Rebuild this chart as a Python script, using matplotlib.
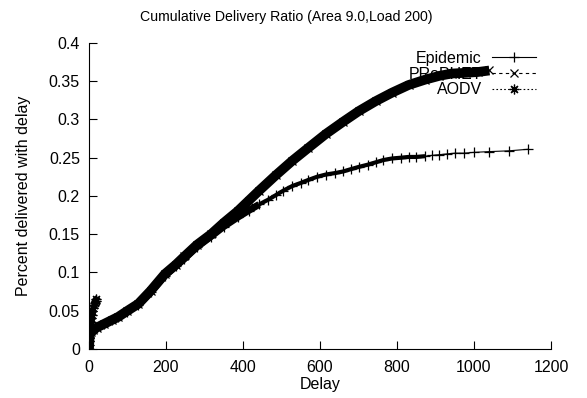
import numpy as np
import matplotlib
matplotlib.use('Agg')
import matplotlib.pyplot as plt

plt.rcParams['font.family'] = ['Liberation Sans', 'DejaVu Sans']

# values
epi_delay = [0, 1, 2, 5, 10, 20, 40, 60, 76, 100, 128, 160, 197, 225, 248, 280, 317, 350, 386, 415,
             442, 465, 485, 505, 528, 550, 570, 592, 615, 640, 660, 680, 701, 725, 745, 765, 787, 810,
             830, 850, 873, 890, 910, 930, 951, 975, 1000, 1040, 1090, 1140]
epi_ratio = [0, 0.01, 0.02, 0.022, 0.025, 0.028, 0.033, 0.038, 0.042, 0.049, 0.058, 0.074, 0.096, 0.108,
             0.118, 0.133, 0.147, 0.160, 0.172, 0.181, 0.189, 0.195, 0.201, 0.207, 0.213, 0.217, 0.221,
             0.225, 0.228, 0.230, 0.232, 0.235, 0.238, 0.241, 0.244, 0.247, 0.249, 0.250, 0.251, 0.251,
             0.252, 0.253, 0.254, 0.255, 0.256, 0.256, 0.257, 0.258, 0.259, 0.261]

prophet_delay = [0, 1, 2, 5, 10, 20, 40, 60, 76, 100, 128, 160, 197, 225, 248, 280, 317, 350, 386, 415,
                 442, 485, 528, 570, 615, 660, 701, 745, 787, 830, 873, 910, 942, 980, 1010, 1040]
prophet_ratio = [0, 0.01, 0.02, 0.022, 0.025, 0.028, 0.033, 0.038, 0.042, 0.050, 0.059, 0.076, 0.098, 0.110,
                 0.121, 0.136, 0.150, 0.165, 0.180, 0.194, 0.207, 0.227, 0.246, 0.263, 0.281, 0.297, 0.311,
                 0.324, 0.335, 0.345, 0.352, 0.357, 0.360, 0.361, 0.362, 0.364]

aodv_delay = [0, 0, 1, 1, 2, 2, 3, 4, 5, 7, 9, 11, 13, 15, 17, 19]
aodv_ratio = [0, 0.005, 0.01, 0.015, 0.02, 0.025, 0.03, 0.035, 0.04, 0.045, 0.05, 0.054, 0.057, 0.06, 0.063, 0.065]

fig = plt.figure(figsize=(5.87, 3.98), dpi=100)
ax = fig.add_axes([0.1516, 0.1231, 0.787, 0.769])

# thick underlay for the dense marker bands
ax.plot(prophet_delay, prophet_ratio, color='black', lw=7, zorder=2, solid_capstyle='butt')
ax.plot(epi_delay[:21], epi_ratio[:21], color='black', lw=5, zorder=2, solid_capstyle='butt')
ax.plot(epi_delay[20:41], epi_ratio[20:41], color='black', lw=3, zorder=2, solid_capstyle='butt')
ax.plot(aodv_delay, aodv_ratio, color='black', lw=4, zorder=2)

ax.plot(epi_delay, epi_ratio, color='black', lw=0.8, marker='+', ms=7, mew=0.9,
        label='Epidemic', zorder=3)
ax.plot(prophet_delay, prophet_ratio, color='black', lw=0.8, ls=(0, (3, 3)), marker='x', ms=6, mew=0.9,
        label='PRoPHET', zorder=3)
ax.plot(aodv_delay, aodv_ratio, color='black', lw=0.8, ls=(0, (1.5, 2)), marker=(8, 2, 0), ms=7, mew=0.9,
        label='AODV', zorder=3)

ax.set_xlim(0, 1200)
ax.set_ylim(0, 0.4)
ax.set_xticks(np.arange(0, 1201, 200))
ax.set_yticks(np.arange(0, 0.41, 0.05))
ax.set_yticklabels(['0', '0.05', '0.1', '0.15', '0.2', '0.25', '0.3', '0.35', '0.4'])
ax.tick_params(direction='in', length=6, width=0.8, labelsize=11.5)
ax.tick_params(axis='y', pad=6.5)
ax.tick_params(axis='x', pad=8)
ax.spines['top'].set_visible(False)
ax.spines['right'].set_visible(False)
for s in ('left', 'bottom'):
    ax.spines[s].set_linewidth(0.8)

ax.set_title('Cumulative Delivery Ratio (Area 9.0,Load 200)', fontsize=10.2, x=0.428, pad=15.5)
ax.set_xlabel('Delay', fontsize=11.5, labelpad=1)
ax.set_ylabel('Percent delivered with delay', fontsize=11.5, labelpad=13)

leg = ax.legend(loc='upper right', bbox_to_anchor=(0.982, 0.995), frameon=False, markerfirst=False,
                fontsize=11.5, handlelength=2.8, labelspacing=0.05, handletextpad=0.6, borderaxespad=0)
for vp in leg._legend_handle_box.get_children():
    vp.align = 'right'
leg.set_zorder(1)

fig.savefig('out.png', dpi=100)
